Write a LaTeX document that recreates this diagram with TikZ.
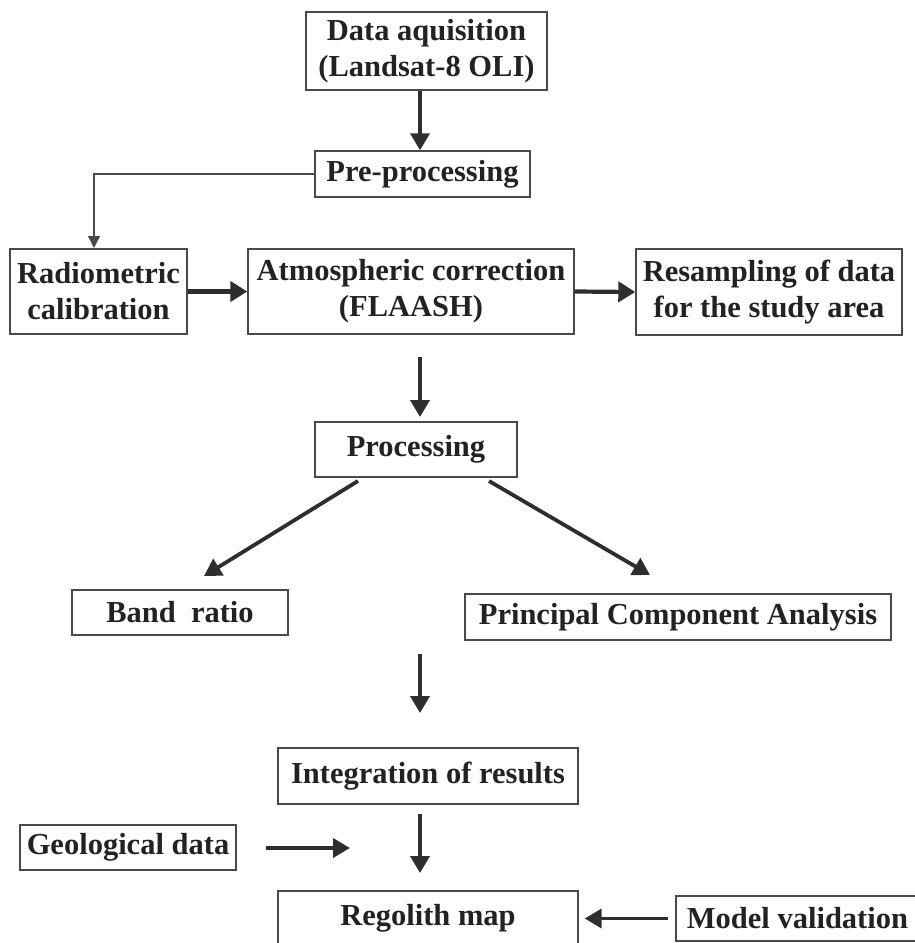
\documentclass[tikz,border=0pt]{standalone}
\usepackage{fontspec}
\setmainfont{Liberation Serif}
\usetikzlibrary{arrows.meta}
\definecolor{boxgray}{HTML}{4A4A4A}
\definecolor{arrgray}{HTML}{2E2E2E}
\definecolor{txt}{HTML}{222222}
\tikzset{
  box/.style={draw=boxgray, line width=1.4pt, inner sep=0pt, align=center, text=txt,
    font=\fontsize{30.5pt}{36pt}\selectfont\bfseries},
  arr/.style={draw=arrgray, line width=3.8pt, -{Triangle[length=17pt,width=19pt]}},
  thickarr/.style={draw=arrgray, line width=4.2pt, -{Triangle[length=17pt,width=20pt]}},
  thinarr/.style={draw=boxgray, line width=1.4pt, -{Triangle[length=12pt,width=12pt]}},
}
\begin{document}
\begin{tikzpicture}[x=1pt,y=-1pt]
\useasboundingbox (0,0) rectangle (915,943);
\node[box, minimum width=241pt, minimum height=78pt] (data) at (426.5,51) {Data aquisition\\(Landsat-8 OLI)};
\node[box, minimum width=215pt, minimum height=46pt] (pre) at (422.5,174) {Pre-processing};
\node[box, minimum width=177pt, minimum height=85pt] (rad) at (98.5,291.5) {Radiometric\\calibration};
\node[box, minimum width=326pt, minimum height=85pt] (atm) at (411,291.5) {Atmospheric correction\\(FLAASH)};
\node[box, minimum width=266pt, minimum height=86pt] (res) at (769,292) {Resampling of data\\for the study area};
\node[box, minimum width=202pt, minimum height=55pt] (proc) at (416,449.5) {Processing};
\node[box, minimum width=216pt, minimum height=45pt] (band) at (180,612.5) {Band\ \ ratio};
\node[box, minimum width=426pt, minimum height=46pt] (pca) at (678,617) {Principal Component Analysis};
\node[box, minimum width=300pt, minimum height=56pt] (integ) at (428,776) {Integration of results};
\node[box, minimum width=216pt, minimum height=45pt] (geo) at (128,847.5) {Geological data};
\node[box, minimum width=300pt, minimum height=54pt] (reg) at (428,918) {Regolith map};
\node[box, minimum width=243pt, minimum height=45pt] (model) at (797.5,918.5) {Model validation};

% free arrow ends
\coordinate (a1s) at (420,357);
\coordinate (a1e) at (420,417);
\coordinate (d1s) at (358,481);
\coordinate (d1e) at (204,576);
\coordinate (d2s) at (489,481);
\coordinate (d2e) at (650,575);
\coordinate (a2s) at (420,654);
\coordinate (a2e) at (420,713);
\coordinate (a3s) at (420,814);
\coordinate (a3e) at (420,873);
\coordinate (g1s) at (266,848);
\coordinate (g1e) at (350,848);
\coordinate (radtop) at (94,248);

\draw[arr] (data.south -| a1s) -- (pre.north -| a1s);
\draw[thinarr] (pre.west) -| (radtop);
\draw[thickarr] (rad.east) -- (atm.west);
\draw[thickarr] (atm.east) -- (res.west);
\draw[arr] (a1s) -- (a1e);
\draw[arr] (d1s) -- (d1e);
\draw[arr] (d2s) -- (d2e);
\draw[arr] (a2s) -- (a2e);
\draw[arr] (a3s) -- (a3e);
\draw[arr] (g1s) -- (g1e);
\draw[arr, shorten <=7pt, shorten >=6pt] (model.west) -- (model.west -| reg.east);
\end{tikzpicture}
\end{document}
